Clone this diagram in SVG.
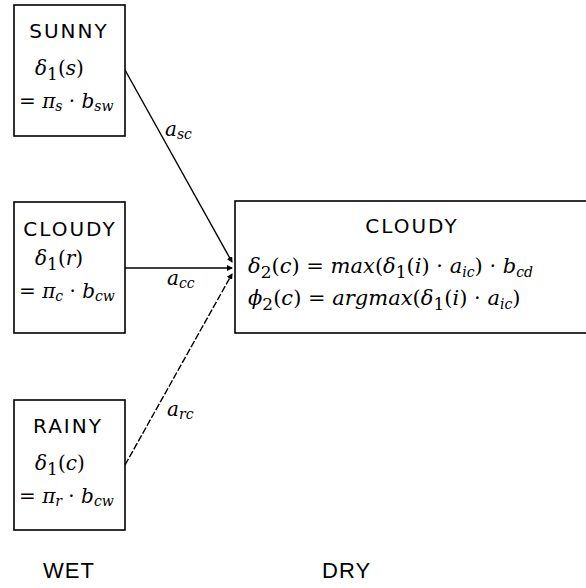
<svg xmlns="http://www.w3.org/2000/svg" width="586" height="588" viewBox="0 0 586 588">
<style>
.box{fill:#fff;stroke:#000;stroke-width:1.6}
.cap{font-family:"DejaVu Sans","Liberation Sans",sans-serif;font-size:20px;letter-spacing:2px;fill:#000}
.m{font-family:"DejaVu Serif","Liberation Serif",serif;font-size:20px;fill:#000}
.big{font-size:21px}
.i{font-style:italic}
.s{font-size:14px;font-style:italic}
.n{font-size:17px}
.lbl{font-family:"Liberation Sans",sans-serif;font-size:22px;letter-spacing:1px;fill:#000}
.edge{stroke:#000;stroke-width:1.4;fill:none}
</style>
<defs>
<marker id="ah" markerWidth="6" markerHeight="6" refX="5" refY="3" orient="auto" markerUnits="userSpaceOnUse">
<path d="M0,0 L6,3 L0,6 z" fill="#000"/>
</marker>
</defs>
<rect width="586" height="588" fill="#fff"/>
<g id="connectors">
<line class="edge" x1="125" y1="70" x2="232" y2="262" marker-end="url(#ah)"/>
<line class="edge" x1="125" y1="268" x2="232" y2="268" marker-end="url(#ah)"/>
<line class="edge" x1="125" y1="465" x2="232" y2="274" stroke-dasharray="7,2" marker-end="url(#ah)"/>
<text class="m i" x="165" y="136" font-size="17">a<tspan class="s" font-size="13" dy="3">sc</tspan></text>
<text class="m i" x="167" y="285" font-size="17">a<tspan class="s" font-size="13" dy="3">cc</tspan></text>
<text class="m i" x="167" y="416" font-size="17">a<tspan class="s" font-size="13" dy="3">rc</tspan></text>
</g>
<g id="sunny">
<rect class="box" x="14" y="5" width="111" height="131"/>
<text class="cap" x="69" y="38" text-anchor="middle">SUNNY</text>
<text class="m" x="35" y="75"><tspan class="i">δ</tspan><tspan class="n" dy="5">1</tspan><tspan dy="-5">(</tspan><tspan class="i">s</tspan>)</text>
<text class="m" x="19" y="108">= <tspan class="i">π</tspan><tspan class="s" dy="3">s</tspan><tspan dy="-3"> · </tspan><tspan class="i">b</tspan><tspan class="s" dy="3">sw</tspan></text>
</g>
<g id="cloudy-wet">
<rect class="box" x="14" y="202" width="111" height="131"/>
<text class="cap" x="70" y="236" text-anchor="middle">CLOUDY</text>
<text class="m" x="35" y="265"><tspan class="i">δ</tspan><tspan class="n" dy="5">1</tspan><tspan dy="-5">(</tspan><tspan class="i">r</tspan>)</text>
<text class="m" x="19" y="298">= <tspan class="i">π</tspan><tspan class="s" dy="3">c</tspan><tspan dy="-3"> · </tspan><tspan class="i">b</tspan><tspan class="s" dy="3">cw</tspan></text>
</g>
<g id="rainy">
<rect class="box" x="14" y="400" width="111" height="130"/>
<text class="cap" x="68" y="433" text-anchor="middle">RAINY</text>
<text class="m" x="35" y="470"><tspan class="i">δ</tspan><tspan class="n" dy="5">1</tspan><tspan dy="-5">(</tspan><tspan class="i">c</tspan>)</text>
<text class="m" x="19" y="503">= <tspan class="i">π</tspan><tspan class="s" dy="3">r</tspan><tspan dy="-3"> · </tspan><tspan class="i">b</tspan><tspan class="s" dy="3">cw</tspan></text>
</g>
<g id="cloudy-dry">
<rect class="box" x="235" y="201" width="360" height="132"/>
<text class="cap" x="412" y="233" text-anchor="middle">CLOUDY</text>
<text class="m big" x="248" y="273"><tspan class="i">δ</tspan><tspan class="n" dy="5">2</tspan><tspan dy="-5">(</tspan><tspan class="i">c</tspan>) = <tspan class="i">max</tspan>(<tspan class="i">δ</tspan><tspan class="n" dy="5">1</tspan><tspan dy="-5">(</tspan><tspan class="i">i</tspan>) · <tspan class="i">a</tspan><tspan class="s" dy="4">ic</tspan><tspan dy="-4">) · </tspan><tspan class="i">b</tspan><tspan class="s" dy="4">cd</tspan></text>
<text class="m big" x="248" y="305"><tspan class="i">ϕ</tspan><tspan class="n" dy="5">2</tspan><tspan dy="-5">(</tspan><tspan class="i">c</tspan>) = <tspan class="i">argmax</tspan>(<tspan class="i">δ</tspan><tspan class="n" dy="5">1</tspan><tspan dy="-5">(</tspan><tspan class="i">i</tspan>) · <tspan class="i">a</tspan><tspan class="s" dy="4">ic</tspan><tspan dy="-4">)</tspan></text>
</g>
<text class="lbl" x="43" y="578">WET</text>
<text class="lbl" x="322" y="578">DRY</text>
</svg>
